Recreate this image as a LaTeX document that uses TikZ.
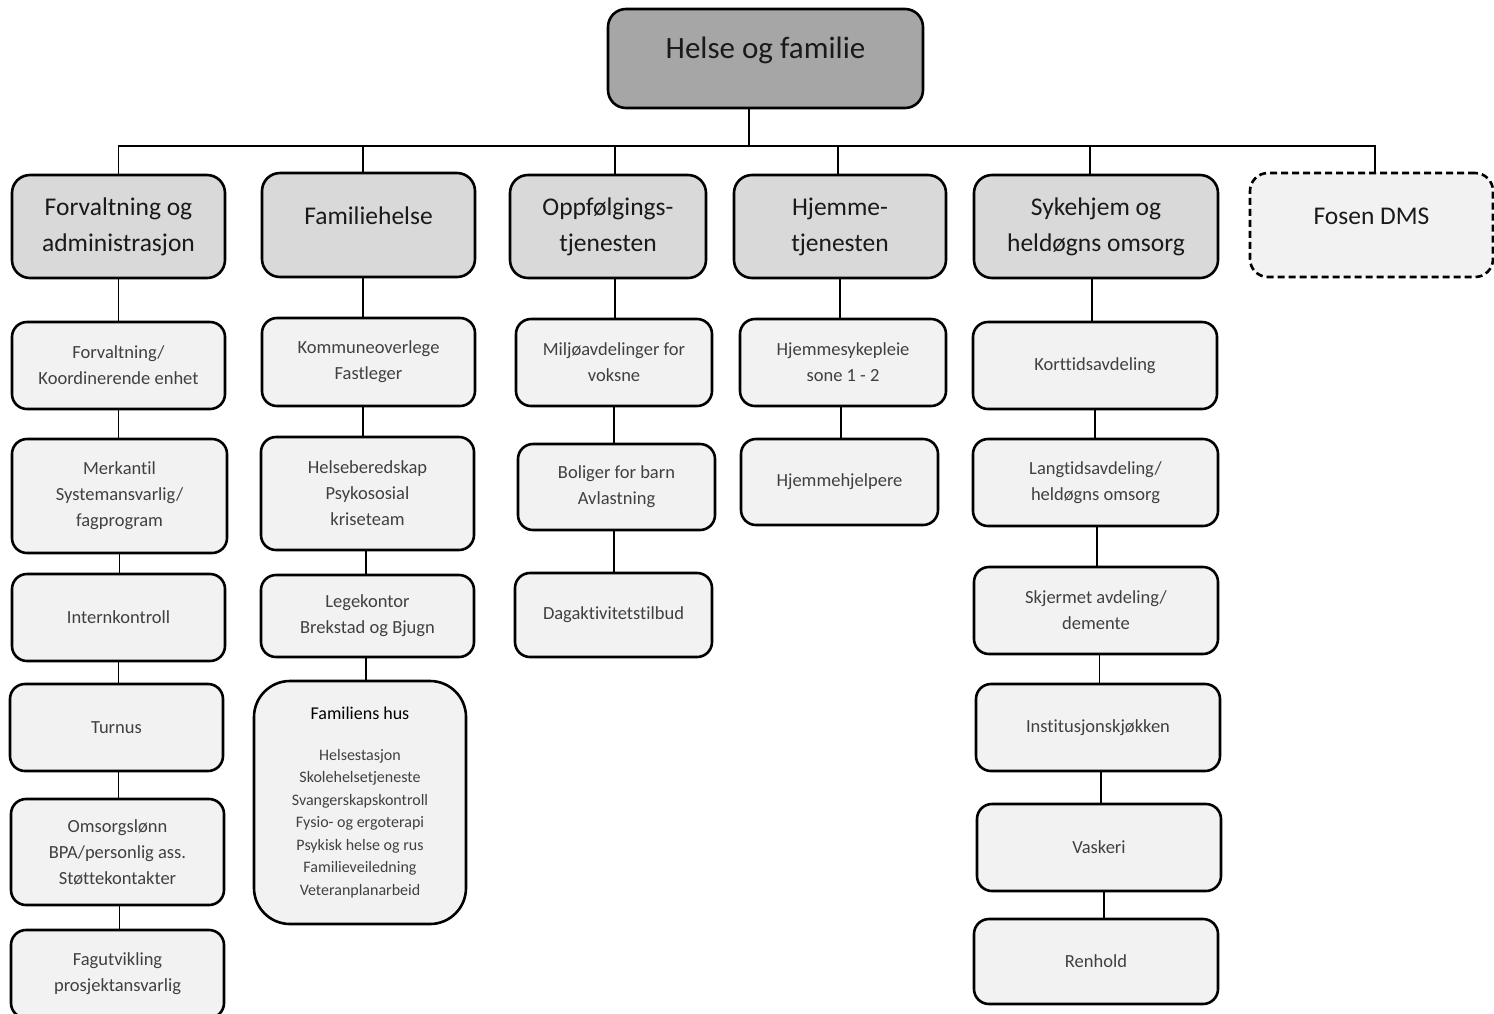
\documentclass[tikz,border=0pt]{standalone}
\usepackage{fontspec}
\setmainfont{Carlito}[Ligatures=NoCommon]
\definecolor{topfill}{HTML}{A6A6A6}
\definecolor{midfill}{HTML}{D9D9D9}
\definecolor{leaffill}{HTML}{F2F2F2}
\definecolor{leaftext}{HTML}{404040}
\definecolor{headtext}{HTML}{1A1A1A}
\begin{document}
\begin{tikzpicture}[x=1pt,y=-1pt,
  base/.style={draw=black, line width=2.6pt, rounded corners=15pt, align=center, inner sep=0pt},
  topbox/.style={base, fill=topfill, rounded corners=18pt, text=headtext},
  midbox/.style={base, fill=midfill, rounded corners=18pt, text=headtext,
    font=\fontsize{25.5}{36}\selectfont},
  dmsbox/.style={base, fill=leaffill, rounded corners=18pt, text=headtext, dashed,
    dash pattern=on 7pt off 4pt},
  leaf/.style={base, fill=leaffill, text=leaftext, font=\fontsize{18.5}{26}\selectfont},
  conn/.style={draw=black, line width=1.2pt},
  sz/.style 2 args={minimum width=#1pt, minimum height=#2pt}]
\clip (0,0) rectangle (1494,1013);
\fill[white] (0,0) rectangle (1494,1013);

% top
\node[topbox, sz={315}{99},
  label={[font=\fontsize{31}{36}\selectfont, text=headtext, yshift=8pt]center:Helse og familie}]
  (top) at (765.5,58.5) {};

% level 1
\node[midbox, sz={213}{103}] (l1) at (118.5,226.5) {Forvaltning og\\administrasjon};
\node[midbox, sz={213}{104},
  label={[font=\fontsize{25.5}{36}\selectfont, text=headtext, yshift=9pt]center:Familiehelse}]
  (l2) at (368.5,225) {};
\node[midbox, sz={196}{103}] (l3) at (608,226.5) {Oppfølgings-\\tjenesten};
\node[midbox, sz={212}{103}] (l4) at (840,226.5) {Hjemme-\\tjenesten};
\node[midbox, sz={244}{103}] (l5) at (1096,226.5) {Sykehjem og\\heldøgns omsorg};
\node[dmsbox, sz={243}{104},
  label={[font=\fontsize{25.5}{36}\selectfont, text=headtext, yshift=9pt]center:Fosen DMS}]
  (l6) at (1371.5,225) {};

% column 1
\node[leaf, sz={213}{87}] (c11) at (118.5,365.5) {Forvaltning/\\Koordinerende enhet};
\node[leaf, sz={215}{114}] (c12) at (119.5,496) {Merkantil\\Systemansvarlig/\\fagprogram};
\node[leaf, sz={213}{87}] (c13) at (118.5,617.5) {Internkontroll};
\node[leaf, sz={213}{87}] (c14) at (116.5,727.5) {Turnus};
\node[leaf, sz={213}{106}] (c15) at (117.5,852) {Omsorgslønn\\BPA/personlig ass.\\Støttekontakter};
\node[leaf, sz={213}{88}] (c16) at (117.5,974) {Fagutvikling\\prosjektansvarlig};

% column 2
\node[leaf, sz={213}{88}] (c21) at (368.5,362) {Kommuneoverlege\\Fastleger};
\node[leaf, sz={213}{113}] (c22) at (367.5,493.5) {Helseberedskap\\Psykososial\\kriseteam};
\node[leaf, sz={213}{82}] (c23) at (367.5,616) {Legekontor\\Brekstad og Bjugn};
\node[leaf, sz={212}{243}, rounded corners=36pt, font=\fontsize{16}{22.5}\selectfont] (c24) at (360,802.5)
  {{\fontsize{18}{22.5}\selectfont\color{black}Familiens hus}\\[18.5pt]
   Helsestasjon\\Skolehelsetjeneste\\Svangerskapskontroll\\Fysio- og ergoterapi\\Psykisk helse og rus\\Familieveiledning\\Veteranplanarbeid};

% column 3
\node[leaf, sz={196}{87}] (c31) at (614,362.5) {Miljøavdelinger for\\voksne};
\node[leaf, sz={197}{86}] (c32) at (616.5,487) {Boliger for barn\\Avlastning};
\node[leaf, sz={197}{84}] (c33) at (613.5,615) {Dagaktivitetstilbud};

% column 4
\node[leaf, sz={206}{87}] (c41) at (843,362.5) {Hjemmesykepleie\\sone 1 - 2};
\node[leaf, sz={197}{86}] (c42) at (839.5,482) {Hjemmehjelpere};

% column 5
\node[leaf, sz={244}{87}] (c51) at (1095,365.5) {Korttidsavdeling};
\node[leaf, sz={245}{87}] (c52) at (1095.5,482.5) {Langtidsavdeling/\\heldøgns omsorg};
\node[leaf, sz={244}{87}] (c53) at (1096,610.5) {Skjermet avdeling/\\demente};
\node[leaf, sz={244}{87}] (c54) at (1098,727.5) {Institusjonskjøkken};
\node[leaf, sz={244}{87}] (c55) at (1099,847.5) {Vaskeri};
\node[leaf, sz={244}{85}] (c56) at (1096,961.5) {Renhold};

% bus
\coordinate (bus) at (749,146);
\draw[conn] ([xshift=-16.5pt]top.south) -- ([xshift=-16.5pt]top.south |- bus);
\draw[conn] (l1.north) -- (l1.north |- bus) -- ([xshift=3.5pt]l6.north |- bus) -- ([xshift=3.5pt]l6.north);
\draw[conn] ([xshift=-5.5pt]l2.north) -- ([xshift=-5.5pt]l2.north |- bus);
\draw[conn] ([xshift=7pt]l3.north) -- ([xshift=7pt]l3.north |- bus);
\draw[conn] ([xshift=-2pt]l4.north) -- ([xshift=-2pt]l4.north |- bus);
\draw[conn] ([xshift=-6pt]l5.north) -- ([xshift=-6pt]l5.north |- bus);

% down lines
\draw[conn] (l1.south) -- (l1.south |- c11.north);
\draw[conn] (c11.south) -- (c11.south |- c12.north);
\draw[conn] (c12.south) -- (c12.south |- c13.north);
\draw[conn] (c13.south) -- (c13.south |- c14.north);
\draw[conn] ([xshift=2pt]c14.south) -- ([xshift=2pt]c14.south |- c15.north);
\draw[conn] ([xshift=2pt]c15.south) -- ([xshift=2pt]c15.south |- c16.north);

\draw[conn] ([xshift=-5.5pt]l2.south) -- ([xshift=-5.5pt]l2.south |- c21.north);
\draw[conn] ([xshift=-5.5pt]c21.south) -- ([xshift=-5.5pt]c21.south |- c22.north);
\draw[conn] ([xshift=-1.5pt]c22.south) -- ([xshift=-1.5pt]c22.south |- c23.north);
\draw[conn] ([xshift=-1.5pt]c23.south) -- ([xshift=-1.5pt]c23.south |- c24.north);

\draw[conn] ([xshift=7pt]l3.south) -- ([xshift=7pt]l3.south |- c31.north);
\draw[conn] (c31.south) -- (c31.south |- c32.north);
\draw[conn] ([xshift=-2.5pt]c32.south) -- ([xshift=-2.5pt]c32.south |- c33.north);

\draw[conn] (l4.south) -- (l4.south |- c41.north);
\draw[conn] ([xshift=-2pt]c41.south) -- ([xshift=-2pt]c41.south |- c42.north);

\draw[conn] ([xshift=-4pt]l5.south) -- ([xshift=-4pt]l5.south |- c51.north);
\draw[conn] (c51.south) -- (c51.south |- c52.north);
\draw[conn] ([xshift=1.5pt]c52.south) -- ([xshift=1.5pt]c52.south |- c53.north);
\draw[conn] ([xshift=3.5pt]c53.south) -- ([xshift=3.5pt]c53.south |- c54.north);
\draw[conn] ([xshift=3pt]c54.south) -- ([xshift=3pt]c54.south |- c55.north);
\draw[conn] ([xshift=5pt]c55.south) -- ([xshift=5pt]c55.south |- c56.north);
\end{tikzpicture}
\end{document}
